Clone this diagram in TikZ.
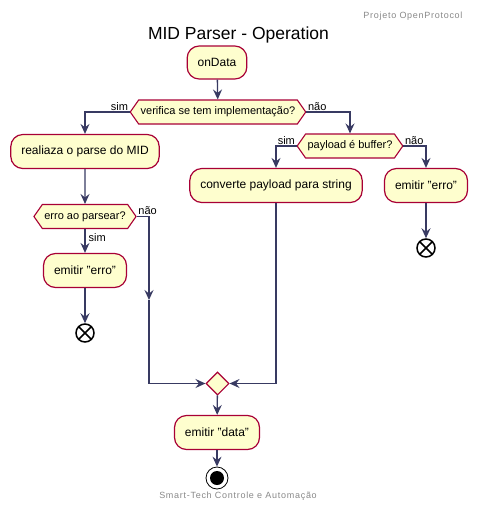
\documentclass[tikz,border=0pt]{standalone}
\usepackage{fontspec}
\setmainfont{Liberation Sans}
\usetikzlibrary{arrows.meta,positioning,shapes.geometric,shapes.symbols}
\definecolor{boxfill}{HTML}{FEFECE}
\definecolor{boxline}{HTML}{A80036}
\definecolor{arrowline}{HTML}{383A62}
\definecolor{notegray}{HTML}{888888}
\tikzset{
    %Define standard arrow tip
    >={Stealth[length=10pt,width=9pt,inset=3.5pt]},
    %Define style for activity boxes
    activity/.style={
           rectangle,
           rounded corners=12pt,
           draw=boxline, fill=boxfill, line width=1.2pt,
           inner xsep=10.5pt,
           minimum height=34pt,
           font=\fontsize{12}{14}\selectfont},
    % Define style for decisions
    decision/.style={
           signal, signal to=west and east,
           signal pointer angle=110,
           draw=boxline, fill=boxfill, line width=1.1pt,
           inner xsep=2pt, inner ysep=0pt,
           minimum height=24pt,
           font=\fontsize{11}{13}\selectfont},
    % Define style for the merge diamond
    merge/.style={
           diamond,
           draw=boxline, fill=boxfill, line width=1.1pt,
           minimum size=23pt, inner sep=0pt},
    % Define style for stop and end points
    stopx/.style={
           circle,
           draw=black, line width=1.5pt, fill=white,
           minimum size=18pt, inner sep=0pt,
           path picture={
               \draw[line width=1.5pt] (45:9pt) -- (225:9pt) (135:9pt) -- (-45:9pt);
           }},
    endpoint/.style={
           circle,
           draw=black, line width=0.8pt, fill=white,
           minimum size=22pt, inner sep=0pt,
           path picture={
               \fill[black] (0,0) circle (7pt);
           }},
    % Define branch label style
    branch/.style={
           font=\fontsize{11}{13}\selectfont,
           inner sep=1pt},
    % Define arrow style
    pil/.style={
           ->,
           draw=arrowline,
           line width=1.3pt}
}

\begin{document}
\begin{tikzpicture}[x=1pt, y=-1pt]
        \useasboundingbox (0,0) rectangle (477,512);
        %nodes

        % header and title
        \node[anchor=east, text=notegray, font=\fontsize{9}{10}\selectfont\addfontfeature{LetterSpace=8}]
        (header) at (466,16)
        {Projeto OpenProtocol}
        ;
        \node[font=\fontsize{17.5}{20}\selectfont]
        (title) at (238.5,35)
        {MID Parser - Operation}
        ;

        % onData node
        \node[activity, minimum height=33pt]
        (ondata) at (217,62.5)
        {onData}
        ;

        % implementation decision
        \node[decision]
        (impl) at (218,112)
        {verifica se tem implementação?}
        ;

        % parse node
        \node[activity]
        (parse) at (85,151.5)
        {realiaza o parse do MID}
        ;

        % parse error decision
        \node[decision]
        (parseerr) at (85,216.5)
        {erro ao parsear?}
        ;

        % emit error after parse
        \node[activity]
        (erroA) at (85,270.5)
        {emitir "erro"}
        ;
        \node[stopx]
        (stopA) at (85,333)
        {}
        ;

        % payload decision
        \node[decision]
        (buffer) at (350,146)
        {payload é buffer?}
        ;

        % convert node
        \node[activity]
        (convert) at (276,185.5)
        {converte payload para string}
        ;

        % emit error for payload
        \node[activity]
        (erroB) at (426,185.5)
        {emitir "erro"}
        ;
        \node[stopx]
        (stopB) at (426,248)
        {}
        ;

        % merge node
        \node[merge]
        (join) at (217.5,383.5)
        {}
        ;

        % emit data node
        \node[activity]
        (data) at (217,432.5)
        {emitir "data"}
        ;
        \node[endpoint]
        (end) at (217,478)
        {}
        ;

        % footer
        \node[text=notegray, font=\fontsize{9}{10}\selectfont\addfontfeature{LetterSpace=8}]
        (footer) at (238,496)
        {Smart-Tech Controle e Automação}
        ;

        \coordinate (naomid) at (149,300);

        % connectors
        \draw[pil] (ondata) -- (impl);
        \draw[pil]
        (impl.west) node[branch, anchor=south east] {sim}
        -| (parse.north)
        ;
        \draw[pil]
        (impl.east) node[branch, anchor=south west] {não}
        -| (buffer.north)
        ;
        \draw[pil] (parse) -- (parseerr);
        \draw[pil]
        (parseerr.south) -- node[branch, anchor=west, pos=0.35, xshift=2pt] {sim}
        (erroA.north)
        ;
        \draw[pil] (erroA) -- (stopA);
        \draw[pil]
        (parseerr.east) node[branch, anchor=south west] {não}
        -| (naomid)
        ;
        \draw[pil] (naomid) |- (join.west);
        \draw[pil]
        (buffer.west) node[branch, anchor=south east] {sim}
        -| (convert.north)
        ;
        \draw[pil]
        (buffer.east) node[branch, anchor=south west] {não}
        -| (erroB.north)
        ;
        \draw[pil] (erroB) -- (stopB);
        \draw[pil] (convert.south) |- (join.east);
        \draw[pil] (join) -- (data);
        \draw[pil] (data) -- (end);

    \end{tikzpicture}
\end{document}
